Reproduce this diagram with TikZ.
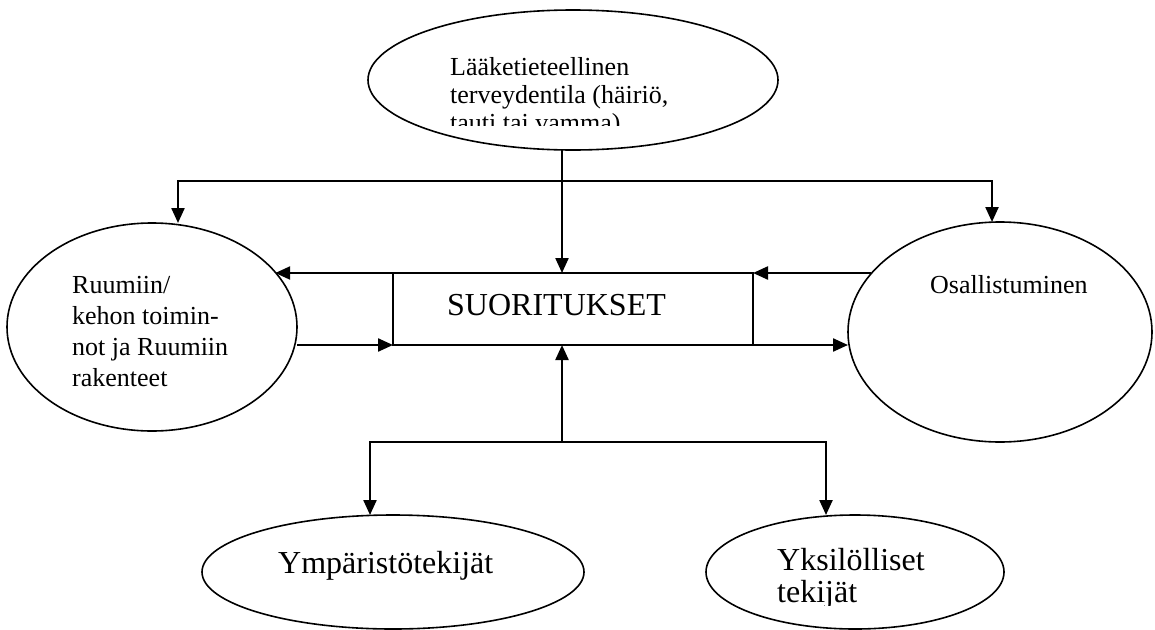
\documentclass[tikz,border=0pt]{standalone}
\usepackage{fontspec}
\setmainfont{Liberation Serif}
\usetikzlibrary{positioning}
\usetikzlibrary{shapes.geometric}
\usetikzlibrary{arrows.meta}
\tikzset{
    oval/.style={draw, ellipse, line width=1.6pt, inner sep=0pt, outer sep=0pt},
    txt/.style={anchor=base west, align=left, inner sep=0pt, font=\fontsize{26}{31}\selectfont},
    bigtxt/.style={txt, font=\fontsize{32}{32}\selectfont},
    conn/.style={line width=2.3pt},
    arr/.style={conn, -{Triangle[width=13pt,length=15pt]}},
}

\begin{document}
\begin{tikzpicture}[x=1pt, y=-1pt]
            \useasboundingbox (0,0) rectangle (1155,629);
            \clip (0,0) rectangle (1155,629);

            \node[oval, minimum width=410pt, minimum height=140pt] (health) at (573,80) {};
            \node[oval, minimum width=290pt, minimum height=208pt] (body) at (152,327) {};
            \node[oval, minimum width=304pt, minimum height=220pt] (participation) at (1000,332) {};
            \node[oval, minimum width=382pt, minimum height=114pt] (environment) at (393,572) {};
            \node[oval, minimum width=298pt, minimum height=114pt] (personal) at (855,572) {};
            \node[draw, line width=1.6pt, minimum width=360pt, minimum height=72pt, inner sep=0pt, outer sep=0pt] (suoritukset) at (573,309) {};

            % texts (base = last line)
            \begin{scope}
                \clip (360,0) rectangle (790,125);
                \node[txt, font=\fontsize{26}{28}\selectfont] (health_txt) at (450,131) {Lääketieteellinen\\terveydentila (häiriö,\\tauti tai vamma)};
            \end{scope}
            \node[txt] (body_txt) at (72,386) {Ruumiin/\\kehon toimin-\\not ja Ruumiin\\rakenteet};
            \node[txt] (participation_txt) at (930,293) {Osallistuminen};
            \node[bigtxt] (suoritukset_txt) at (447,315) {SUORITUKSET};
            \node[bigtxt] (environment_txt) at (278,573) {Ympäristötekijät};
            \begin{scope}
                \clip (690,520) rectangle (1040,605);
                \node[bigtxt] (personal_txt) at (777,602) {Yksilölliset\\tekijät};
            \end{scope}

            \coordinate (split_top) at (562,181);
            \coordinate (split_left) at (178,181);
            \coordinate (split_right) at (992,181);
            \coordinate (split_bottom) at (562,442);
            \coordinate (branch_left) at (370,442);
            \coordinate (branch_right) at (826,442);

            \draw[conn] (split_top |- health.south) -- (split_top);
            \draw[arr] (split_top) -- (split_top |- suoritukset.north);
            \draw[arr] (split_top) -| (split_left |- body.north);
            \draw[arr] (split_top) -| (split_right |- participation.north);

            \draw[arr] (suoritukset.north west) -- (body.24 |- suoritukset.north west);
            \draw[arr] (body.east |- suoritukset.south west) -- (suoritukset.south west);
            \draw[arr] (participation.156 |- suoritukset.north east) -- (suoritukset.north east);
            \draw[arr] (suoritukset.south east) -- (participation.west |- suoritukset.south east);

            \draw[arr] (split_bottom) -- (split_bottom |- suoritukset.south);
            \draw[arr] (split_bottom) -| (branch_left |- environment.north);
            \draw[arr] (split_bottom) -| (branch_right |- personal.north);
        \end{tikzpicture}
\end{document}
